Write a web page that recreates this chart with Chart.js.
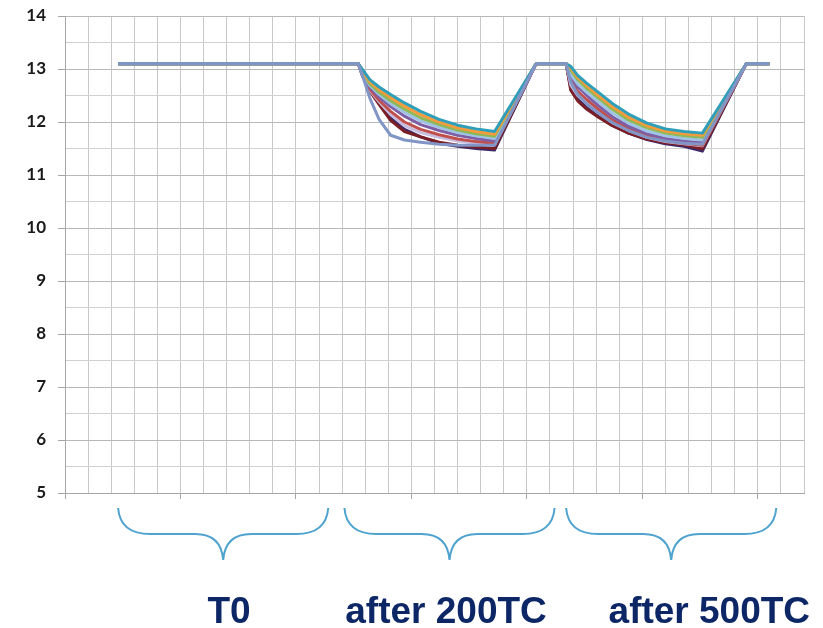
<!DOCTYPE html>
<html>
<head>
<meta charset="utf-8">
<script src="https://cdn.jsdelivr.net/npm/chart.js@4"></script>
<style>
  body { margin: 0; background: #fff; }
  #wrap { width: 823px; height: 628px; position: relative; }
</style>
</head>
<body>
<div id="wrap"><canvas id="myChart"></canvas></div>
<script>
// x positions of the samples (axis runs 0..320, minor grid every 10, major every 50)
var xPoints = [23, 127, 129, 132, 136, 141, 147, 154, 162, 170, 178, 186, 204,
               217, 219, 222, 226, 231, 237, 244, 252, 260, 268, 276, 295, 305];

var slate      = [13.1, 13.10, 12.85, 12.45, 12.05, 11.75, 11.66, 11.62, 11.58, 11.56, 11.56, 11.56, 13.1,
                  13.10, 12.75, 12.52, 12.34, 12.17, 11.99, 11.84, 11.71, 11.64, 11.60, 11.58, 13.1, 13.1];
var teal       = [13.1, 13.10, 12.98, 12.80, 12.66, 12.52, 12.36, 12.20, 12.05, 11.94, 11.87, 11.82, 13.1,
                  13.10, 13.05, 12.88, 12.73, 12.56, 12.35, 12.15, 11.98, 11.87, 11.82, 11.79, 13.1, 13.1];
var orange     = [13.1, 13.10, 12.95, 12.76, 12.61, 12.46, 12.30, 12.14, 12.00, 11.89, 11.82, 11.77, 13.1,
                  13.10, 13.02, 12.84, 12.68, 12.50, 12.29, 12.09, 11.93, 11.83, 11.78, 11.75, 13.1, 13.1];
var green      = [13.1, 13.10, 12.93, 12.72, 12.56, 12.40, 12.24, 12.08, 11.95, 11.85, 11.78, 11.73, 13.1,
                  13.10, 12.98, 12.80, 12.63, 12.45, 12.24, 12.04, 11.89, 11.79, 11.74, 11.71, 13.1, 13.1];
var lightBlue  = [13.1, 13.10, 12.91, 12.69, 12.52, 12.35, 12.18, 12.02, 11.90, 11.80, 11.74, 11.69, 13.1,
                  13.10, 12.90, 12.72, 12.56, 12.38, 12.17, 11.98, 11.83, 11.74, 11.69, 11.66, 13.1, 13.1];
var purple     = [13.1, 13.10, 12.90, 12.66, 12.47, 12.29, 12.11, 11.95, 11.84, 11.75, 11.69, 11.64, 13.1,
                  13.10, 12.86, 12.66, 12.50, 12.31, 12.10, 11.92, 11.78, 11.69, 11.64, 11.61, 13.1, 13.1];
var red        = [13.1, 13.10, 12.88, 12.62, 12.41, 12.20, 12.00, 11.86, 11.76, 11.68, 11.63, 11.60, 13.1,
                  13.10, 12.78, 12.58, 12.42, 12.24, 12.04, 11.87, 11.74, 11.65, 11.60, 11.56, 13.1, 13.1];
var lavender   = [13.1, 13.10, 12.87, 12.60, 12.38, 12.14, 11.93, 11.80, 11.71, 11.64, 11.60, 11.57, 13.1,
                  13.10, 12.70, 12.50, 12.34, 12.17, 11.99, 11.84, 11.71, 11.63, 11.59, 11.55, 13.1, 13.1];
var darkRed    = [13.1, 13.10, 12.85, 12.58, 12.33, 12.03, 11.82, 11.72, 11.62, 11.56, 11.53, 11.50, 13.1,
                  13.10, 12.60, 12.40, 12.24, 12.09, 11.93, 11.79, 11.68, 11.61, 11.57, 11.49, 13.1, 13.1];
var darkPurple = [13.1, 13.10, 12.86, 12.60, 12.36, 12.08, 11.86, 11.72, 11.60, 11.54, 11.50, 11.47, 13.1,
                  13.10, 12.64, 12.44, 12.27, 12.11, 11.94, 11.79, 11.67, 11.59, 11.54, 11.45, 13.1, 13.1];

var seriesValues = [slate, teal, orange, green, lightBlue, purple, red, lavender, darkRed, darkPurple];
var seriesColors = ["#8196c6", "#2f9fb9", "#f59b3b", "#8db85a", "#9ec3e6",
                    "#7e5fa6", "#c0504d", "#c9bde0", "#7a1f25", "#3b2a6b"];

// brackets under the axis and their labels (in x-axis units)
var groupLabels = ["T0", "after 200TC", "after 500TC"];
var groupStart = [23, 121, 217];
var groupEnd = [114, 212, 308];
var labelX = [71, 165, 279];

var datasets = seriesValues.map(function (vals, i) {
    return {
        data: vals.map(function (v, j) { return {x: xPoints[j], y: v}; }),
        borderColor: seriesColors[i],
        borderWidth: 3,
        pointRadius: 0,
        tension: 0,
        borderJoinStyle: "round",
        fill: false
    };
});

var bracePlugin = {
    id: "braces",
    afterDraw: function (chart) {
        var c = chart.ctx, xs = chart.scales.x, b = chart.chartArea.bottom;
        c.save();
        c.strokeStyle = "#4fa3cf";
        c.lineWidth = 2;
        for (var i = 0; i < groupLabels.length; i++) {
            var x0 = xs.getPixelForValue(groupStart[i]);
            var x1 = xs.getPixelForValue(groupEnd[i]);
            var xc = (x0 + x1) / 2;
            var yTop = b + 15, yMid = b + 41, yTip = b + 67;
            c.beginPath();
            c.moveTo(x0, yTop);
            c.quadraticCurveTo(x0 + 2, yMid, x0 + 32, yMid);
            c.lineTo(xc - 28, yMid);
            c.quadraticCurveTo(xc - 2, yMid, xc, yTip);
            c.quadraticCurveTo(xc + 2, yMid, xc + 28, yMid);
            c.lineTo(x1 - 32, yMid);
            c.quadraticCurveTo(x1 - 2, yMid, x1, yTop);
            c.stroke();
        }
        c.fillStyle = "#0d2766";
        c.font = "bold 37px 'Liberation Sans', Arial, sans-serif";
        c.textAlign = "center";
        c.textBaseline = "alphabetic";
        for (var k = 0; k < groupLabels.length; k++) {
            c.fillText(groupLabels[k], xs.getPixelForValue(labelX[k]), b + 130);
        }
        c.restore();
    }
};

new Chart("myChart", {
    type: "line",
    data: {datasets: datasets},
    plugins: [bracePlugin],
    options: {
        responsive: true,
        maintainAspectRatio: false,
        animation: false,
        layout: {padding: {left: 0, right: 19, top: 16, bottom: 129}},
        plugins: {legend: {display: false}, tooltip: {enabled: false}},
        scales: {
            x: {
                type: "linear",
                min: 0,
                max: 320,
                ticks: {display: false, stepSize: 10},
                border: {color: "#a6a6a6"},
                grid: {
                    color: "#c8c8c8",
                    tickLength: 6,
                    tickColor: function (ctx) {
                        return ctx.tick && ctx.tick.value % 50 === 0 ? "#a6a6a6" : "rgba(0,0,0,0)";
                    }
                }
            },
            y: {
                min: 5,
                max: 14,
                ticks: {
                    stepSize: 0.5,
                    padding: 12,
                    color: "#1a1a1a",
                    font: {family: "Lato", size: 17, weight: "bold"},
                    callback: function (v) { return v % 1 === 0 ? v : ""; }
                },
                border: {color: "#a6a6a6"},
                grid: {
                    tickLength: 7,
                    color: function (ctx) {
                        return ctx.tick && ctx.tick.value % 1 === 0 ? "#b8b8b8" : "#d0d0d0";
                    },
                    tickColor: function (ctx) {
                        return ctx.tick && ctx.tick.value % 1 === 0 ? "#a6a6a6" : "rgba(0,0,0,0)";
                    }
                },
                afterFit: function (s) {
                    s.width = 65;
                    s.paddingTop = 0;
                    s.paddingBottom = 0;
                }
            }
        }
    }
});
</script>
</body>
</html>
